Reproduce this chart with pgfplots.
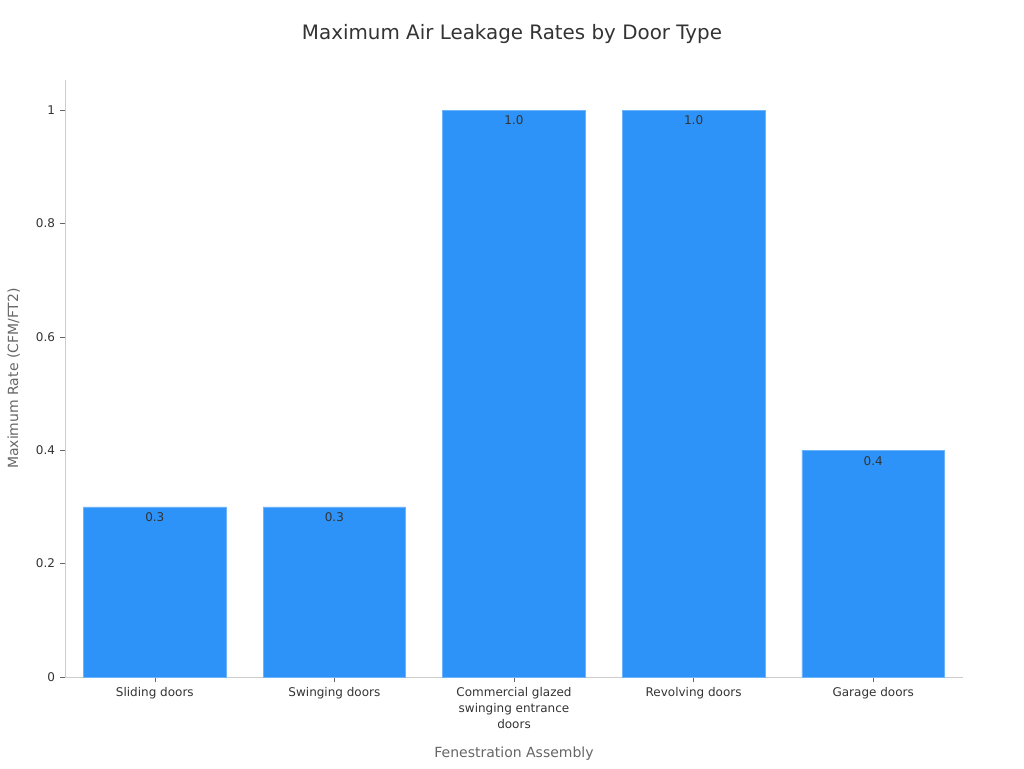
\documentclass[border=0pt]{standalone}
\usepackage{pgfplots}
\pgfplotsset{compat=1.18}
\usepackage{fontspec}
\setmainfont{DejaVu Sans}
\definecolor{barblue}{HTML}{2E93F9}
\definecolor{txt}{HTML}{333333}
\definecolor{lbl}{HTML}{666666}
\definecolor{axln}{HTML}{CCCCCC}

\begin{document}
\begin{tikzpicture}
	% page is 1024x768 px at 0.75pt per px, axis box lower left at (65,677) px
	\path[use as bounding box] (-48.75pt,-68.25pt) rectangle (719.25pt,507.75pt);
	\begin{axis}[
		at={(0,0)}, anchor=south west,
		scale only axis,
		width=673.5pt, height=447.75pt,
		ybar, bar width=107pt,
		xmin=-0.5, xmax=4.5,
		ymin=0, ymax=1.053,
		axis x line*=bottom, axis y line*=left,
		axis line style={axln},
		xtick=data,
		xticklabels={Sliding doors, Swinging doors, {Commercial glazed\\swinging entrance\\doors}, Revolving doors, Garage doors},
		xticklabel style={align=center, font=\fontsize{9}{12}\selectfont, text=txt},
		ytick={0,0.2,0.4,0.6,0.8,1},
		yticklabels={0,0.2,0.4,0.6,0.8,1},
		yticklabel style={font=\fontsize{9}{11}\selectfont, text=txt},
		tick style={lbl, thin},
		major tick length=4pt,
		tick align=outside,
		xlabel={Fenestration Assembly},
		ylabel={Maximum Rate (CFM/FT2)},
		label style={font=\fontsize{10.5}{12}\selectfont, text=lbl},
		xlabel style={yshift=-7pt},
		ylabel style={yshift=5pt},
		nodes near coords,
		point meta=explicit symbolic,
		every node near coord/.append style={anchor=north, yshift=-1pt, font=\fontsize{9}{11}\selectfont, text=txt},
	]
		\addplot[fill=barblue, draw=barblue!70!white] coordinates {
			(0,0.3) [0.3]
			(1,0.3) [0.3]
			(2,1.0) [1.0]
			(3,1.0) [1.0]
			(4,0.4) [0.4]
		};
	\end{axis}
	\node[text=txt, font=\fontsize{14.9}{17}\selectfont] at (335.25pt,482pt) {Maximum Air Leakage Rates by Door Type};
\end{tikzpicture}
\end{document}
